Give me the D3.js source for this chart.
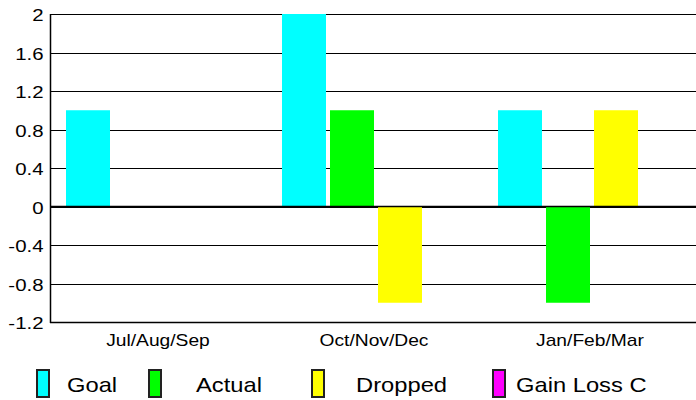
<!DOCTYPE html>
<html>
<head>
<meta charset="utf-8">
<script src="https://cdn.jsdelivr.net/npm/d3@7"></script>
<style>
html,body{margin:0;padding:0;background:#fff;}
svg{display:block;font-family:"Liberation Sans",Arial,sans-serif;}
</style>
</head>
<body>
<svg id="chart" width="696" height="400"></svg>
<script>
const categories = ["Jul/Aug/Sep", "Oct/Nov/Dec", "Jan/Feb/Mar"];
const seriesNames = ["Goal", "Actual", "Dropped", "Gain Loss C"];
const goal = [1, 2, 1];
const actual = [0, 1, -1];
const dropped = [0, -1, 1];
const gainLoss = [0, 0, 0];
const yTicks = [-1.2, -0.8, -0.4, 0, 0.4, 0.8, 1.2, 1.6, 2];
const colors = ["#00ffff", "#00ff00", "#ffff00", "#ff00ff"];

(function () {
const seriesValues = [goal, actual, dropped, gainLoss];
const svg = d3.select("#chart");
const FONT = "'Liberation Sans',Arial,sans-serif";

function stretch(sel, factor) {
  sel.each(function () {
    const w = this.getComputedTextLength();
    this.setAttribute("textLength", w * factor);
    this.setAttribute("lengthAdjust", "spacingAndGlyphs");
  });
}

const pLeft = 50, pRight = 698, pTop = 14, pBottom = 322;
const x = d3.scaleBand().domain(categories).range([pLeft, pRight]).padding(0);
const xs = d3.scaleBand().domain(seriesNames).range([16, 204]).paddingInner(1/12).paddingOuter(0);
const y = d3.scaleLinear().domain([-1.2, 2]).range([pBottom, pTop]);

// gridlines
svg.append("g").selectAll("line").data(yTicks).join("line")
  .attr("x1", pLeft).attr("x2", 696)
  .attr("y1", d => Math.round(y(d)) + 0.5).attr("y2", d => Math.round(y(d)) + 0.5)
  .attr("stroke", "#000").attr("stroke-width", 1);

// bars
const data = [];
categories.forEach((c, i) => {
  seriesNames.forEach((s, j) => {
    data.push({c, s, v: seriesValues[j][i], color: colors[j]});
  });
});
svg.append("g").selectAll("rect").data(data.filter(d => d.v !== 0)).join("rect")
  .attr("x", d => x(d.c) + xs(d.s))
  .attr("width", xs.bandwidth())
  .attr("y", d => y(Math.max(0, d.v)))
  .attr("height", d => Math.abs(y(d.v) - y(0)))
  .attr("fill", d => d.color);

// zero line
svg.append("line").attr("x1", pLeft).attr("x2", 696)
  .attr("y1", y(0)).attr("y2", y(0)).attr("stroke", "#000").attr("stroke-width", 1.5);

// frame: left & bottom
svg.append("line").attr("x1", pLeft + 0.5).attr("x2", pLeft + 0.5).attr("y1", pTop).attr("y2", pBottom + 1)
  .attr("stroke", "#000").attr("stroke-width", 1.5);
svg.append("line").attr("x1", pLeft).attr("x2", 696).attr("y1", pBottom + 0.5).attr("y2", pBottom + 0.5)
  .attr("stroke", "#000").attr("stroke-width", 1.5);

// y axis labels
const yAxis = d3.axisLeft(y).tickValues(yTicks).tickSize(0).tickPadding(6.5).tickFormat(d => String(d));
const gy = svg.append("g").attr("transform", `translate(${pLeft},0)`).call(yAxis);
gy.select(".domain").remove();
gy.selectAll("text").attr("font-size", 17).attr("fill", "#000").attr("dy", "0.41em")
  .attr("font-family", FONT).call(stretch, 1.2);

// x axis labels
const xAxis = d3.axisBottom(x).tickSize(0).tickPadding(12);
const gx = svg.append("g").attr("transform", `translate(0,${pBottom})`).call(xAxis);
gx.select(".domain").remove();
gx.selectAll("text").attr("font-size", 17).attr("fill", "#000").attr("dy", "0.71em")
  .attr("font-family", FONT).call(stretch, 1.13);

// legend
const legendX = [36, 148, 311, 492];
const legendTextX = [67, 196, 356, 516];
const lg = svg.append("g");
seriesNames.forEach((s, i) => {
  lg.append("rect").attr("x", legendX[i] + 1).attr("y", 370).attr("width", 12).attr("height", 27)
    .attr("fill", colors[i]).attr("stroke", "#222").attr("stroke-width", 2);
  lg.append("text").attr("x", legendTextX[i]).attr("y", 392)
    .attr("font-size", 21).attr("fill", "#000").attr("font-family", FONT).text(s);
});
lg.selectAll("text").call(stretch, 1.13);
})();
</script>
</body>
</html>
